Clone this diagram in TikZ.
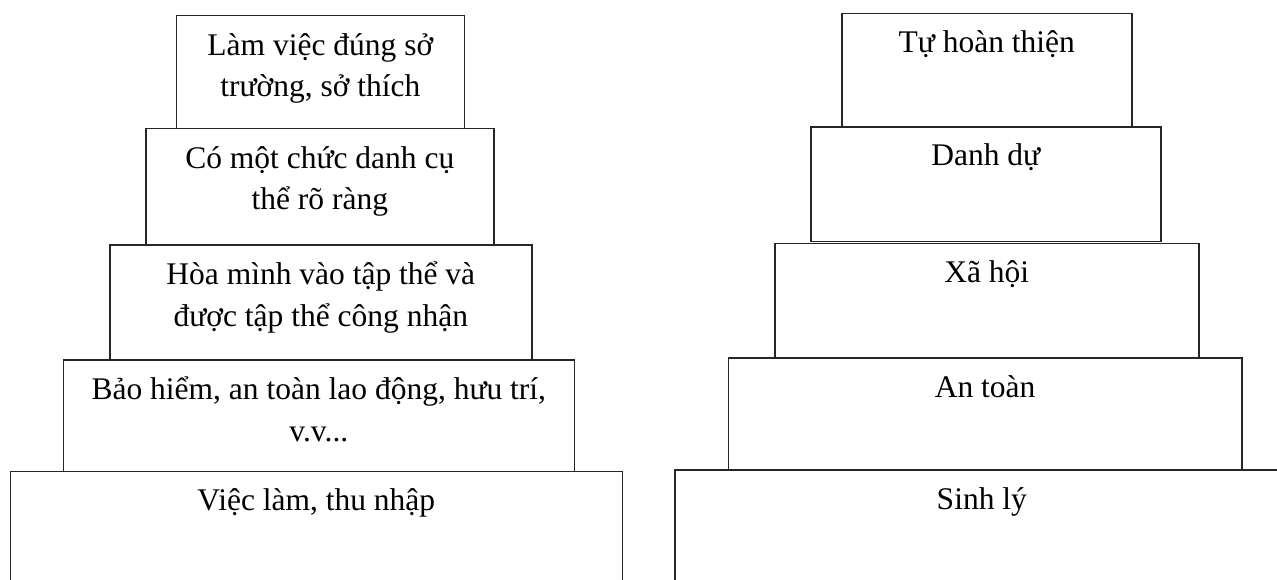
\documentclass[tikz,border=0pt]{standalone}
\usepackage{fontspec}
\setmainfont{Liberation Serif}
\newcommand{\tierfont}{\fontsize{31.5}{41.5}\selectfont}

\begin{document}
\begin{tikzpicture}[x=1pt,y=-1pt,
    tier/.style={draw=black!85,line width=1.6pt,anchor=north west,inner sep=0pt},
    tiertext/.style={font=\tierfont,align=center,anchor=base,inner sep=0pt}]
     \clip (0,0) rectangle (1277,580);
     % left: needs at work (\k = lines below the first)
     \foreach \n/\x/\y/\w/\h/\k/\txt in {
        l1/175.5/14.7/288/113/1/{Làm việc đúng sở\\trường, sở thích},
        l2/145/127.7/348/116.3/1/{Có một chức danh cụ\\thể rõ ràng},
        l3/109/244/422/115.3/1/{Hòa mình vào tập thể và\\được tập thể công nhận},
        l4/62.5/359.3/511/111.4/1/{Bảo hiểm, an toàn lao động, hưu trí,\\v.v...},
        l5/9.5/470.7/612/150/0/{Việc làm, thu nhập}} {
      \node[tier,minimum width=\w pt,minimum height=\h pt,
            label={[tiertext,yshift=-40pt-\k*42pt]north:{\txt}}] (\n) at (\x,\y) {};
     }
     % right: Maslow
     \foreach \n/\x/\y/\w/\h/\txt in {
        r1/841/12.7/290/113.3/{Tự hoàn thiện},
        r2/810/126/350/114.7/{Danh dự},
        r3/774/242.7/424/114.6/{Xã hội},
        r4/727.5/357.3/513.5/111.7/{An toàn},
        r5/674/469/614/150/{Sinh lý}} {
      \node[tier,minimum width=\w pt,minimum height=\h pt,
            label={[tiertext,yshift=-40pt]north:{\txt}}] (\n) at (\x,\y) {};
     }
    \end{tikzpicture}
\end{document}
